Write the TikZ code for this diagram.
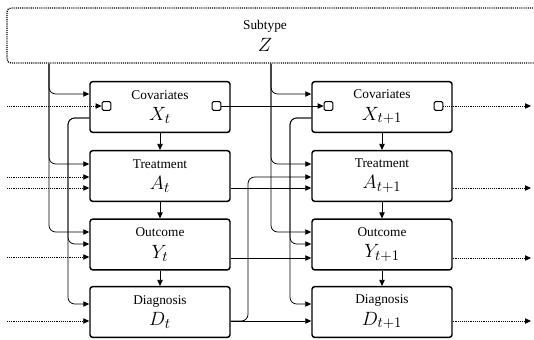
\documentclass[tikz,border=0pt]{standalone}
\usepackage{fontspec}
\setmainfont{Liberation Serif}
\usetikzlibrary{arrows.meta}
\tikzset{
  box/.style={draw, line width=1.1pt, rounded corners=2pt, minimum width=105pt,
    minimum height=38pt, align=center, inner sep=0pt, font=\fontsize{10}{12}\selectfont},
  frame/.style={draw, line width=1pt, dash pattern=on 0.8pt off 0.8pt, rounded corners=3pt,
    minimum width=420pt, minimum height=41.25pt, inner sep=0pt},
  port/.style={draw, line width=0.8pt, rounded corners=1pt, fill=white, minimum size=6.5pt, inner sep=0pt},
  arr/.style={line width=0.6pt, -{Triangle[length=4.5pt,width=4pt]}},
  cnx/.style={arr, rounded corners=5pt},
  far/.style={arr, dash pattern=on 0.7pt off 0.7pt},
}
\begin{document}
\begin{tikzpicture}[x=0.75pt,y=-0.75pt]
\useasboundingbox (0,0) rectangle (534,339);
%
% subtipo arriba
\node[frame] (sub) at (287,35.5) {};
\node[align=center, font=\fontsize{10}{12}\selectfont] (subname) at (265,36) {Subtype\\[4pt]{\fontsize{15}{15}\selectfont$Z$}};
%
% columna t
\node[box] (X1) at (160,107) {Covariates\\[4pt]{\fontsize{15}{15}\selectfont$X_t$}};
\node[box] (A1) at (160,176) {Treatment\\[4pt]{\fontsize{15}{15}\selectfont$A_t$}};
\node[box] (Y1) at (160,244.5) {Outcome\\[4pt]{\fontsize{15}{15}\selectfont$Y_t$}};
\node[box] (D1) at (160,312) {Diagnosis\\[4pt]{\fontsize{15}{15}\selectfont$D_t$}};
%
% columna t+1
\node[box] (X2) at (382,107) {Covariates\\[4pt]{\fontsize{15}{15}\selectfont$X_{t+1}$}};
\node[box] (A2) at (382,176) {Treatment\\[4pt]{\fontsize{15}{15}\selectfont$A_{t+1}$}};
\node[box] (Y2) at (382,244.5) {Outcome\\[4pt]{\fontsize{15}{15}\selectfont$Y_{t+1}$}};
\node[box] (D2) at (382,312) {Diagnosis\\[4pt]{\fontsize{15}{15}\selectfont$D_{t+1}$}};
%
% puertos de las covariables
\node[port] (pin1) at (106.5,106) {};
\node[port] (pout1) at (216.5,106) {};
\node[port] (pin2) at (328.5,106) {};
\node[port] (pout2) at (438.5,106) {};
%
% extremos libres (pasado y futuro)
\coordinate (inX) at (7,106);
\coordinate (inA) at (7,177);
\coordinate (inAA) at (7,188);
\coordinate (inY) at (7,257);
\coordinate (inD) at (7,321);
\coordinate (outX) at (531,106);
\coordinate (outA) at (531,188);
\coordinate (outY) at (531,258);
\coordinate (outD) at (531,321);
%
% Z hacia cada columna
\draw[cnx] (49,0 |- sub.south) |- (X1.west |- 0,94);
\draw[cnx] (49,0 |- sub.south) |- (A1.west |- 0,164);
\draw[cnx] (49,0 |- sub.south) |- (Y1.west |- 0,232);
\draw[cnx] (271,0 |- sub.south) |- (X2.west |- 0,94);
\draw[cnx] (271,0 |- sub.south) |- (A2.west |- 0,164);
\draw[cnx] (271,0 |- sub.south) |- (Y2.west |- 0,232);
%
% X hacia Y y D
\draw[cnx] (X1.west |- 0,118) -- (68,118) |- (Y1.west |- 0,244);
\draw[cnx] (X1.west |- 0,118) -- (68,118) |- (D1.west |- 0,304);
\draw[cnx] (X2.west |- 0,118) -- (290,118) |- (Y2.west |- 0,244);
\draw[cnx] (X2.west |- 0,118) -- (290,118) |- (D2.west |- 0,304);
%
% dentro de cada columna
\draw[arr] (X1) -- (A1);
\draw[arr] (A1) -- (Y1);
\draw[arr] (Y1) -- (D1);
\draw[arr] (X2) -- (A2);
\draw[arr] (A2) -- (Y2);
\draw[arr] (Y2) -- (D2);
%
% de t a t+1
\draw[arr] (pout1) -- (pin2);
\draw[arr] (A1.east |- 0,188) -- (A2.west |- 0,188);
\draw[arr] (Y1.east |- 0,258) -- (Y2.west |- 0,258);
\draw[arr] (D1.east |- 0,321) -- (D2.west |- 0,321);
\draw[cnx] (D1.east |- 0,321) -- (248,321) |- (A2.west |- 0,177);
%
% entradas y salidas punteadas
\draw[far] (inX) -- (pin1);
\draw[far] (inA) -- (A1.west |- inA);
\draw[far] (inAA) -- (A1.west |- inAA);
\draw[far] (inY) -- (Y1.west |- inY);
\draw[far] (inD) -- (D1.west |- inD);
\draw[far] (pout2) -- (outX);
\draw[far] (A2.east |- outA) -- (outA);
\draw[far] (Y2.east |- outY) -- (outY);
\draw[far] (D2.east |- outD) -- (outD);
%
\end{tikzpicture}
\end{document}
